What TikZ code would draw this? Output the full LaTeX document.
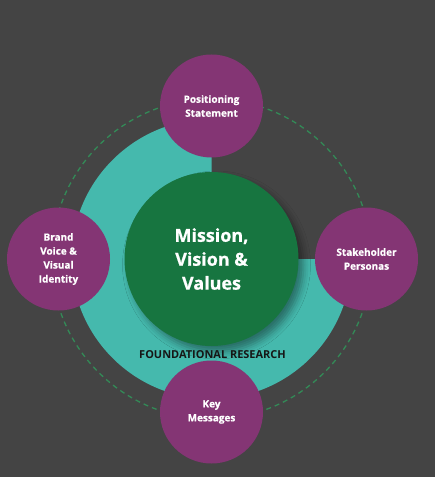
\documentclass[tikz,border=0pt]{standalone}
\usepackage{fontspec}
\setmainfont{Open Sans}
\newfontfamily\heavyfont{Open Sans}[BoldFeatures={FakeBold=0.8}]
\usetikzlibrary{shadows.blur}
\definecolor{bg}{HTML}{444444}
\definecolor{tealring}{HTML}{45B9AD}
\definecolor{hubgreen}{HTML}{177540}
\definecolor{plum}{HTML}{843574}
\definecolor{dashgreen}{HTML}{338A57}
\definecolor{labeldark}{HTML}{161616}
\tikzset{
  hub/.style={circle, fill=hubgreen, minimum size=174bp, inner sep=0pt,
    text=white, align=center, font=\heavyfont\fontsize{18}{24}\selectfont\bfseries,
    blur shadow={shadow xshift=5bp, shadow yshift=-6bp, shadow blur radius=7bp, shadow opacity=40}},
  sat/.style={circle, fill=plum, minimum size=103bp, inner sep=0pt,
    text=white, align=center, font=\heavyfont\fontsize{10}{14}\selectfont\bfseries},
  dashring/.style={draw=dashgreen, line width=1.3bp, dash pattern=on 5bp off 4bp},
  reslabel/.style={text=labeldark, font=\fontsize{11}{13}\selectfont\bfseries}
}
\begin{document}
\begin{tikzpicture}[x=1bp,y=1bp]
  \fill[bg] (0,0) rectangle (435,-477);
  \useasboundingbox (0,0) rectangle (435,-477);
  \coordinate (c) at (211.5,-259);
  % foundational research ring (three quarters)
  \fill[tealring] (c) -- ++(90:140) arc[start angle=90, end angle=360, radius=140] -- cycle;
  % dashed orbit
  \draw[dashring] (c) circle[radius=160];
  % centre
  \node[hub] (mvv) at (c) {Mission,\\Vision \&\\Values};
  \node[reslabel] (fr) at (212.5,-355) {FOUNDATIONAL RESEARCH};
  % satellites
  \node[sat] (pos) at (211.5,-106) {Positioning\\Statement};
  \node[sat] (brand) at (58.5,-259) {Brand\\Voice \&\\Visual\\Identity};
  \node[sat] (stake) at (366.5,-259) {Stakeholder\\Personas};
  \node[sat] (key) at (211.5,-412) {Key\\Messages};
\end{tikzpicture}
\end{document}
